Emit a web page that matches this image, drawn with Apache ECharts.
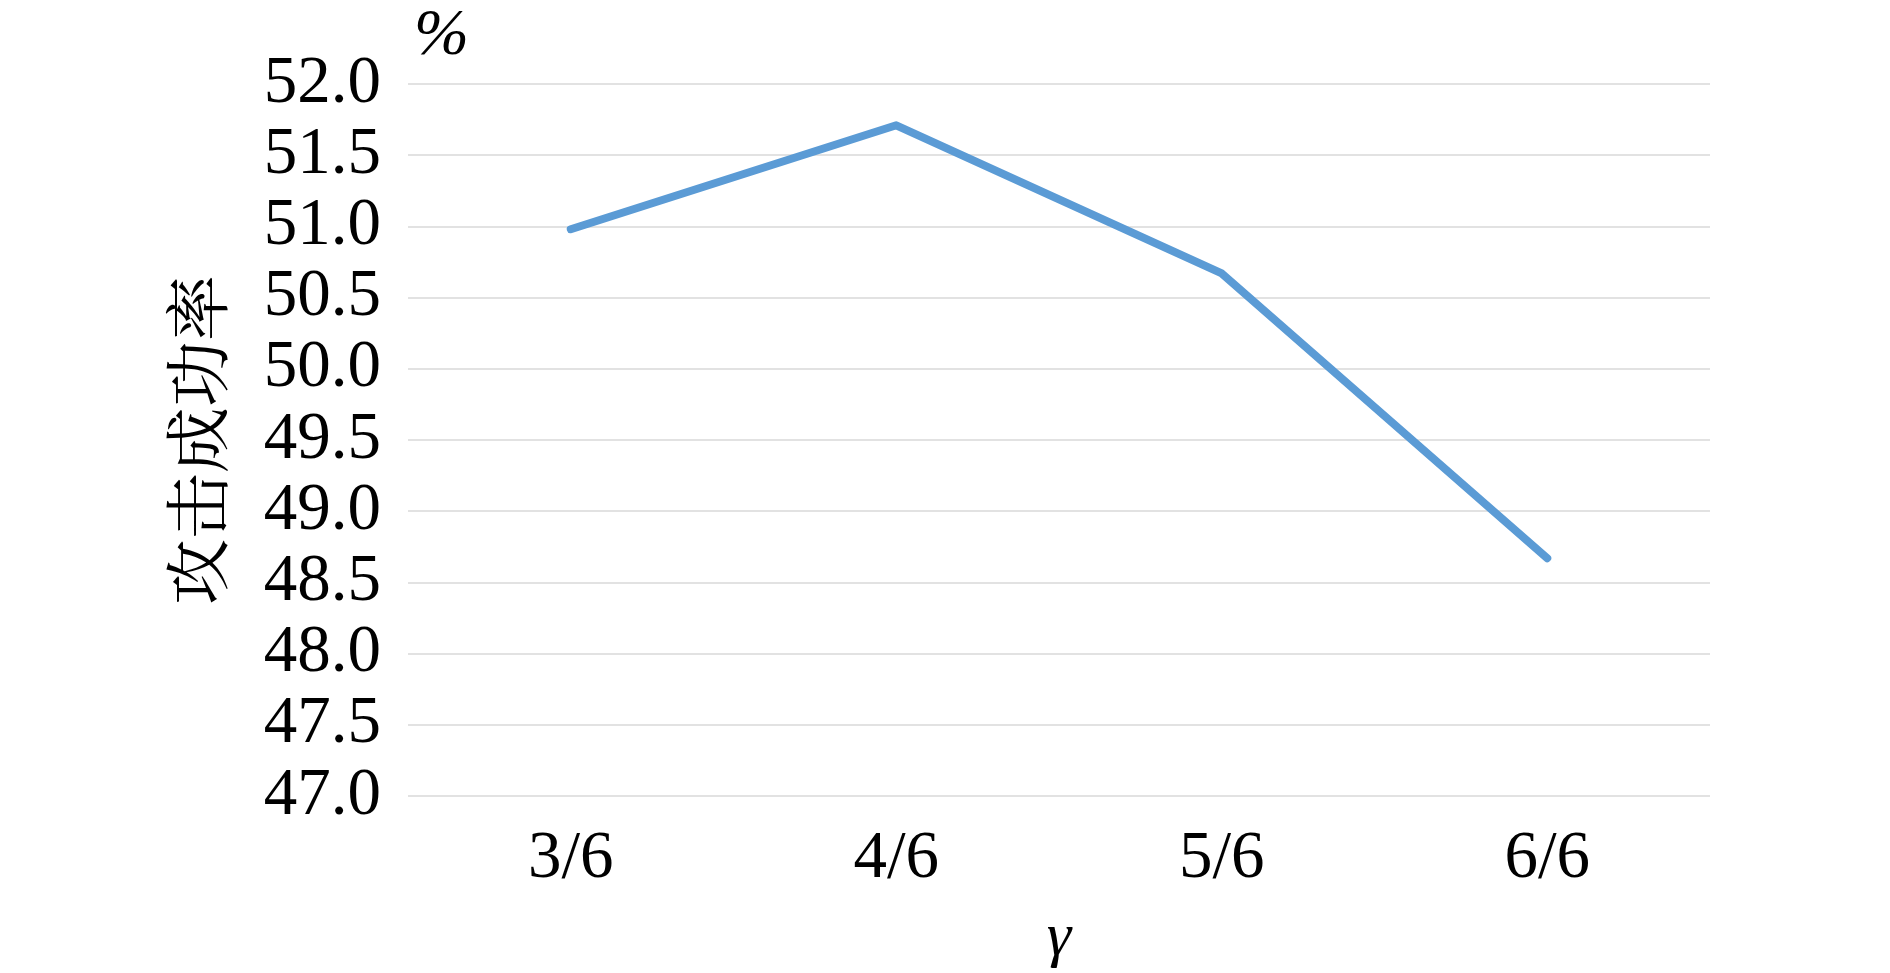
<!DOCTYPE html>
<html>
<head>
<meta charset="utf-8">
<script src="https://cdn.jsdelivr.net/npm/echarts@6/dist/echarts.min.js"></script>
<style>
html,body{margin:0;padding:0;background:#fff;}
#c{width:1890px;height:973px;}
</style>
</head>
<body>
<div id="c"></div>
<script>
const categories = ['3/6', '4/6', '5/6', '6/6'];
const successRate = [50.98, 51.71, 50.67, 48.67];
const yMin = 47.0, yMax = 52.0, yStep = 0.5;
const yAxisTitle = '攻击成功率';
const xAxisTitle = 'γ';
const unitLabel = '%';

const serif = '"Liberation Serif", "DejaVu Serif", serif';
const chart = echarts.init(document.getElementById('c'));
chart.setOption({
  animation: false,
  backgroundColor: '#ffffff',
  grid: { left: 408, right: 180, top: 84, bottom: 177, containLabel: false, outerBoundsMode: 'none' },
  xAxis: {
    type: 'category',
    data: categories,
    boundaryGap: true,
    axisLine: { show: false },
    axisTick: { show: false },
    axisLabel: { fontFamily: serif, fontSize: 67, color: '#000', margin: 30 },
    name: xAxisTitle,
    nameLocation: 'middle',
    nameGap: 112,
    nameTextStyle: { fontFamily: serif, fontStyle: 'italic', fontSize: 62, color: '#000' }
  },
  yAxis: {
    type: 'value',
    min: yMin, max: yMax, interval: yStep,
    axisLine: { show: false },
    axisTick: { show: false },
    splitLine: { lineStyle: { color: '#d9d9d9', width: 1.5 } },
    axisLabel: { fontFamily: serif, fontSize: 67, color: '#000', margin: 27,
      formatter: v => v.toFixed(1) },
    name: yAxisTitle,
    nameLocation: 'middle',
    nameRotate: 90,
    nameGap: 178,
    nameTextStyle: { fontFamily: '"Noto Serif CJK SC", "Noto Sans CJK SC", serif', fontSize: 66, color: '#000' }
  },
  graphic: [{
    type: 'text', left: 414, top: 4,
    style: { text: unitLabel, font: 'italic 66px ' + serif, fill: '#000' }
  }],
  series: [{
    type: 'line',
    data: successRate,
    showSymbol: false,
    lineStyle: { color: '#5b9bd5', width: 8, cap: 'round', join: 'round' },
    itemStyle: { color: '#5b9bd5' }
  }]
});
</script>
</body>
</html>
